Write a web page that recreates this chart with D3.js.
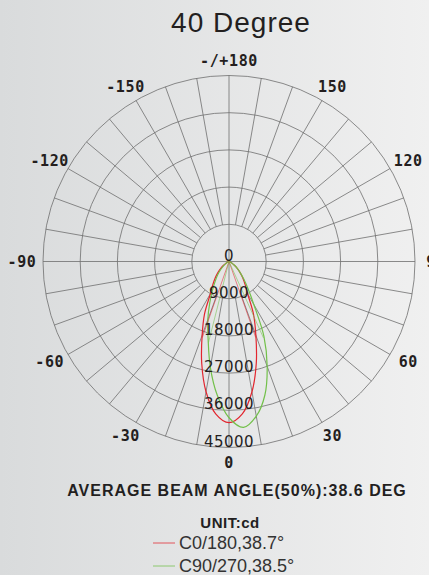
<!DOCTYPE html>
<html>
<head>
<meta charset="utf-8">
<script src="https://cdn.jsdelivr.net/npm/d3@7"></script>
<style>
  html, body { margin: 0; padding: 0; }
  body { width: 429px; height: 575px; overflow: hidden; }
</style>
</head>
<body>
<div id="polar"></div>
<script>
// gamma angles (deg), 0 = straight down, + to the right
const angles = d3.range(-90, 95, 5);

// C0/180 plane, cd
const c0Values = [0, 0, 0, 80, 200, 450, 900, 1600, 2600, 3800, 5200, 6800, 9000, 14000, 19000, 25500, 32000, 37000,
  39000,
  37000, 32000, 25500, 19000, 14000, 9000, 6800, 5200, 3800, 2600, 1600, 900, 450, 200, 80, 0, 0, 0];

// C90/270 plane, cd
const c90Values = [0, 0, 0, 50, 150, 350, 700, 1200, 2000, 3000, 4300, 5800, 8000, 11000, 15000, 19500, 26000, 32500,
  37800,
  40300, 38000, 33500, 27000, 20000, 12000, 8000, 5600, 3800, 2600, 1600, 900, 450, 200, 80, 0, 0, 0];

// half-peak directions drawn as rays
const c0Beam = [-19.35, 19.35];
const c90Beam = [-14.2, 24.3];

const ringValues = [9000, 18000, 27000, 36000, 45000];
const angleTicks = [180, 150, 120, 90, 60, 30, 0, -30, -60, -90, -120, -150];
const angleTickLabels = ['-/+180', '150', '120', '90', '60', '30', '0', '-30', '-60', '-90', '-120', '-150'];

const seriesNames = ['C0/180,38.7°', 'C90/270,38.5°'];
const seriesColors = ['#e2262f', '#72c04a'];

const W = 429, H = 575;
const cx = 229, cy = 261.5, R = 186;

const svg = d3.select('#polar').append('svg')
  .attr('width', W)
  .attr('height', H);

// background
const grad = svg.append('defs').append('linearGradient')
  .attr('id', 'bg')
  .attr('x1', 0).attr('y1', 0).attr('x2', 1).attr('y2', 0);
grad.append('stop').attr('offset', '0%').attr('stop-color', '#d9dbdc');
grad.append('stop').attr('offset', '100%').attr('stop-color', '#f0f0f0');
svg.append('rect').attr('width', W).attr('height', H).attr('fill', 'url(#bg)');

const rScale = d3.scaleLinear().domain([0, 45000]).range([0, R]);
const toRad = d => (180 - d) * Math.PI / 180;

const g = svg.append('g').attr('transform', `translate(${cx},${cy})`);

// rings
g.selectAll('.ring')
  .data(ringValues)
  .enter().append('circle')
  .attr('class', 'ring')
  .attr('r', d => rScale(d))
  .attr('fill', 'none')
  .attr('stroke', '#6e6e6e')
  .attr('stroke-width', 0.8);

// spokes every 10 deg, from first ring out
const spokes = d3.range(0, 360, 10);
g.selectAll('.spoke')
  .data(spokes)
  .enter().append('line')
  .attr('class', 'spoke')
  .attr('x1', d => (d % 90 === 0 ? 0 : rScale(9000)) * Math.sin(toRad(d)))
  .attr('y1', d => -(d % 90 === 0 ? 0 : rScale(9000)) * Math.cos(toRad(d)))
  .attr('x2', d => R * Math.sin(toRad(d)))
  .attr('y2', d => -R * Math.cos(toRad(d)))
  .attr('stroke', '#6e6e6e')
  .attr('stroke-width', 0.8);

// curves
const radial = d3.lineRadial()
  .angle(d => toRad(d[0]))
  .radius(d => rScale(d[1]))
  .curve(d3.curveCatmullRomClosed);

[c0Values, c90Values].forEach((vals, i) => {
  const pts = angles.map((a, k) => [a, vals[k]]);
  g.append('path')
    .attr('d', radial(pts))
    .attr('fill', 'none')
    .attr('stroke', seriesColors[i])
    .attr('stroke-width', 1.2);
});

// beam angle rays
[[c0Beam, 39000 / 2], [c90Beam, 40540 / 2]].forEach(([rays, half], i) => {
  g.selectAll('.ray' + i)
    .data(rays)
    .enter().append('line')
    .attr('x1', 0).attr('y1', 0)
    .attr('x2', d => rScale(half) * Math.sin(toRad(d)))
    .attr('y2', d => -rScale(half) * Math.cos(toRad(d)))
    .attr('stroke', seriesColors[i])
    .attr('stroke-opacity', 0.55)
    .attr('stroke-width', 1);
});

// ring labels
g.selectAll('.ringLabel')
  .data([0].concat(ringValues))
  .enter().append('text')
  .attr('x', 0)
  .attr('y', d => rScale(d) - 6)
  .attr('text-anchor', 'middle')
  .attr('dominant-baseline', 'central')
  .attr('font-family', 'DejaVu Sans')
  .attr('font-size', 15)
  .attr('letter-spacing', 0.5)
  .attr('fill', '#241e1e')
  .text(d => d);

// angle labels
g.selectAll('.angleLabel')
  .data(angleTicks)
  .enter().append('text')
  .attr('x', d => 207 * Math.sin(toRad(d)))
  .attr('y', d => -201 * Math.cos(toRad(d)))
  .attr('text-anchor', 'middle')
  .attr('dominant-baseline', 'central')
  .attr('font-family', 'DejaVu Sans Mono')
  .attr('font-weight', 'bold')
  .attr('font-size', 15)
  .attr('letter-spacing', 0.6)
  .attr('fill', '#241e1e')
  .text((d, i) => angleTickLabels[i]);

// title
svg.append('text')
  .attr('x', 241).attr('y', 32)
  .attr('text-anchor', 'middle')
  .attr('font-family', 'Liberation Sans, Arial')
  .attr('font-size', 28)
  .attr('letter-spacing', 1)
  .attr('fill', '#231f1f')
  .text('40 Degree');

svg.append('text')
  .attr('x', 237).attr('y', 496)
  .attr('text-anchor', 'middle')
  .attr('font-family', 'Liberation Sans, Arial')
  .attr('font-weight', 'bold')
  .attr('font-size', 16)
  .attr('letter-spacing', 1)
  .attr('fill', '#231f1f')
  .text('AVERAGE BEAM ANGLE(50%):38.6 DEG');

svg.append('text')
  .attr('x', 230).attr('y', 527.5)
  .attr('text-anchor', 'middle')
  .attr('font-family', 'Liberation Sans, Arial')
  .attr('font-weight', 'bold')
  .attr('font-size', 15)
  .attr('letter-spacing', 0.5)
  .attr('fill', '#231f1f')
  .text('UNIT:cd');

// legend
const legend = svg.selectAll('.legend')
  .data(seriesNames)
  .enter().append('g')
  .attr('transform', (d, i) => `translate(153,${543 + i * 23})`);

legend.append('line')
  .attr('x1', 0).attr('x2', 22)
  .attr('stroke', (d, i) => seriesColors[i])
  .attr('stroke-opacity', 0.75)
  .attr('stroke-width', 1);

legend.append('text')
  .attr('x', 26).attr('y', 6)
  .attr('font-family', 'Liberation Sans, Arial')
  .attr('font-size', 18)
  .attr('fill', '#333')
  .text(d => d);
</script>
</body>
</html>
